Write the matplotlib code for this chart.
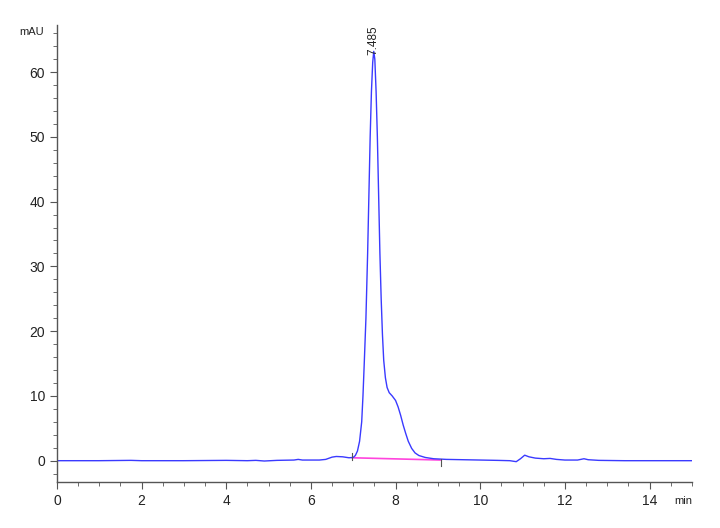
import matplotlib
matplotlib.use("Agg")
import matplotlib.pyplot as plt
from matplotlib.ticker import MultipleLocator

plt.rcParams['font.family'] = ['Liberation Sans', 'DejaVu Sans']

# Chromatogram trace (time in min, signal in mAU)
time_min = [0.0, 1.0, 1.75, 2.0, 3.0, 4.0, 4.5, 4.7, 4.9, 5.2, 5.6, 5.7, 5.8, 6.2, 6.35,
            6.5, 6.6, 6.75, 6.9, 7.0, 7.05, 7.1, 7.15, 7.2, 7.23, 7.26, 7.3, 7.34, 7.37,
            7.40, 7.43, 7.46, 7.485, 7.51, 7.54, 7.57, 7.60, 7.63, 7.66, 7.69, 7.72, 7.76,
            7.80, 7.85, 7.92, 8.0, 8.06, 8.12, 8.18, 8.24, 8.30, 8.38, 8.46, 8.55, 8.7,
            8.9, 9.2, 9.6, 10.0, 10.4, 10.7, 10.85, 10.95, 11.05, 11.15, 11.3, 11.5, 11.65,
            11.8, 12.0, 12.3, 12.45, 12.55, 12.8, 13.4, 15.0]
signal_mau = [0.0, 0.0, 0.05, 0.0, 0.0, 0.05, 0.0, 0.05, -0.05, 0.05, 0.1, 0.2, 0.1, 0.1, 0.2,
              0.55, 0.65, 0.6, 0.45, 0.5, 0.8, 1.5, 3.0, 6.0, 10.0, 15.0, 22.0, 32.0, 41.0,
              50.0, 57.0, 61.5, 63.2, 62.0, 57.0, 50.0, 41.0, 32.0, 25.0, 19.5, 15.5, 12.8,
              11.3, 10.5, 10.0, 9.3, 8.3, 7.0, 5.5, 4.2, 3.0, 1.9, 1.2, 0.8, 0.5,
              0.3, 0.2, 0.15, 0.1, 0.05, 0.0, -0.15, 0.3, 0.85, 0.6, 0.4, 0.3, 0.35,
              0.2, 0.1, 0.1, 0.3, 0.15, 0.05, 0.0, 0.0]

# Integration baseline (start, end)
base_t = [6.98, 9.08]
base_y = [0.45, 0.1]

peak_rt = 7.485
peak_h = 63.2
peak_label = "7.485"

x_ticks = [0, 2, 4, 6, 8, 10, 12, 14]
y_ticks = [0, 10, 20, 30, 40, 50, 60]

fig = plt.figure(figsize=(7.2, 5.28), dpi=100)
ax = fig.add_axes([0.079, 0.087, 0.882, 0.866])

ax.plot(base_t, base_y, color='#ff44dd', lw=1.2)
ax.plot(time_min, signal_mau, color='#3a3aff', lw=1.0)
ax.plot([base_t[0], base_t[0]], [base_y[0] - 0.3, base_y[0] + 0.8], color='#555555', lw=0.8)
ax.plot([base_t[1], base_t[1]], [base_y[1] - 0.9, base_y[1] + 0.1], color='#555555', lw=0.8)

ax.text(peak_rt, peak_h - 0.5, peak_label, rotation=90, ha='center', va='bottom',
        fontsize=8.5, color='#222222', clip_on=False)

ax.set_xlim(0, 15)
ax.set_ylim(-3.3, 67.3)
ax.set_xticks(x_ticks)
ax.set_yticks(y_ticks)
ax.xaxis.set_minor_locator(MultipleLocator(0.5))
ax.yaxis.set_minor_locator(MultipleLocator(2))

for s in ['top', 'right']:
    ax.spines[s].set_visible(False)
for s in ['left', 'bottom']:
    ax.spines[s].set_color('#555555')
    ax.spines[s].set_linewidth(1.0)

ax.tick_params(which='major', length=5, color='#555555', labelsize=10, labelcolor='#222222')
ax.tick_params(which='minor', length=3, color='#555555')

ax.text(-0.02, 66.2, "mAU", transform=ax.get_yaxis_transform(), ha='right', va='center',
        fontsize=8, color='#222222')
ax.text(1.0, -0.03, "min", transform=ax.transAxes, ha='right', va='top',
        fontsize=8, color='#222222')

fig.savefig("out.png", dpi=100, facecolor='white')
